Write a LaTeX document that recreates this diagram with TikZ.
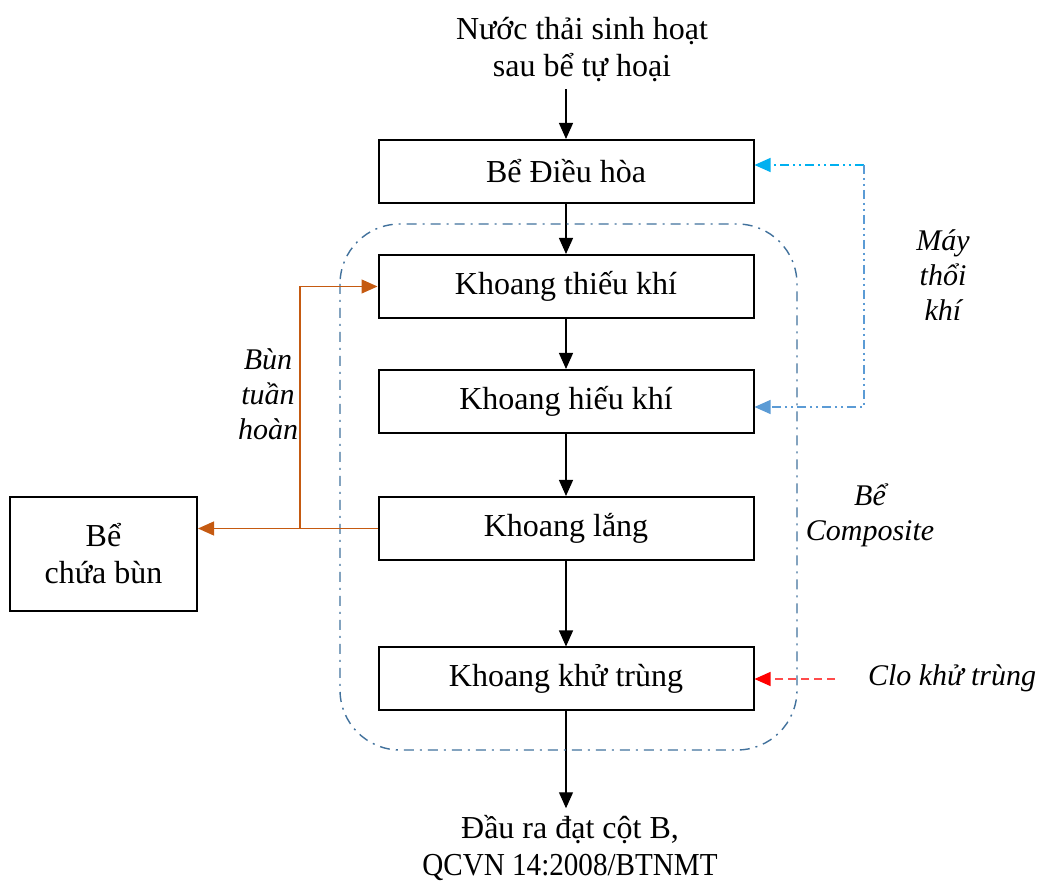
\documentclass[tikz,border=0pt]{standalone}
\usepackage{fontspec}
\setmainfont{Liberation Serif}
\usepackage{xcolor}
\usetikzlibrary{arrows.meta,positioning,calc}
\definecolor{sludge}{HTML}{C55A11}
\definecolor{airtop}{HTML}{00B0F0}
\definecolor{airline}{HTML}{5B9BD5}
\definecolor{tankline}{HTML}{41719C}
\definecolor{chlorine}{HTML}{FF4B4B}

\begin{document}
\begin{tikzpicture}[x=0.5pt, y=-0.5pt,
  font=\fontsize{16}{18.5}\selectfont,
  stage/.style={draw, line width=1pt, minimum width=187.5pt, minimum height=31.5pt, inner sep=0pt},
  flow/.style={line width=0.6pt, -{Triangle[length=8pt,width=7pt]}},
  note/.style={font=\fontsize{15}{17.5}\selectfont\itshape, align=center}]
\useasboundingbox (0,0) rectangle (1046,881);

% --- Main line ---
\node[align=center] (influent) at (582,50) {Nước thải sinh hoạt\\sau bể tự hoại};
\node[stage] (dieuhoa) at (566,171.5) {Bể Điều hòa};
\node[stage] (thieukhi) at (566,286.5) {Khoang thiếu khí};
\node[stage] (hieukhi) at (566,401.5) {Khoang hiếu khí};
\node[stage] (lang) at (566,528.5) {Khoang lắng};
\node[stage] (khutrung) at (566,679) {Khoang khử trùng};
\node[align=center] (effluent) at (570,848) {Đầu ra đạt cột B,\\\scalebox{0.91}[1]{QCVN 14:2008/BTNMT}};

\draw[flow] (influent.south -| dieuhoa.north) -- (dieuhoa.north);
\draw[flow] (dieuhoa) -- (thieukhi);
\draw[flow] (thieukhi) -- (hieukhi);
\draw[flow] (hieukhi) -- (lang);
\draw[flow] (lang) -- (khutrung);
\draw[flow] (khutrung.south) -- (effluent.north -| khutrung.south);

% Composite tank outline
\draw[tankline, line width=0.7pt, rounded corners=30pt,
  dash pattern=on 5pt off 3pt on 1pt off 3pt] (340,224) rectangle (797,750);
\node[note] (composite) at (870,515) {Bể\\Composite};

% --- Sludge recirculation (left) ---
\node[stage, minimum width=93.5pt, minimum height=57pt, align=center] (chuabun) at (103.5,554) {Bể\\chứa bùn};
\coordinate (split) at (300,528.5);
\draw[flow, sludge] (lang.west) -- (chuabun.east |- lang.west);
\draw[flow, sludge] (split) |- (thieukhi.west);
\node[note] (tuanhoan) at (268,394) {Bùn\\tuần\\hoàn};

% --- Air blower (right) ---
\coordinate (blower) at (864,165);
\draw[flow, airtop, dash pattern=on 4.5pt off 2pt on 1pt off 2pt on 1pt off 2pt] (blower) -- (dieuhoa.east |- blower);
\draw[flow, airline, dash pattern=on 4.5pt off 2pt on 1pt off 2pt on 1pt off 2pt] (blower) |- ([yshift=-2.75pt]hieukhi.east);
\node[note] (maythoi) at (943,275) {Máy\\thổi\\khí};

% --- Chlorine dosing ---
\node[note, anchor=west] (clo) at (861,678) {Clo khử trùng};
\coordinate (dose) at (835,679);
\draw[chlorine, line width=0.6pt, dash pattern=on 4pt off 2.5pt,
  -{Triangle[length=8pt,width=7pt,fill=red,color=red]}] (dose) -- (khutrung.east);
\end{tikzpicture}
\end{document}
